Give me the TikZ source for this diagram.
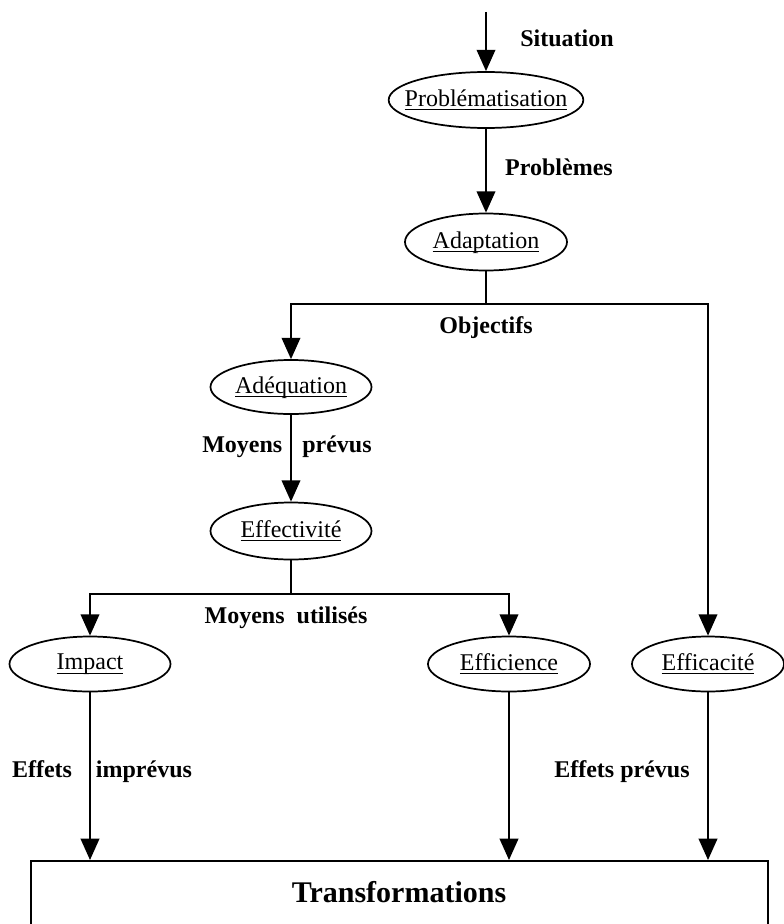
\documentclass[tikz,border=0pt]{standalone}
\usepackage{fontspec}
\setmainfont{Liberation Serif}
\usetikzlibrary{arrows.meta,shapes.geometric}
\newcommand{\ulx}[1]{\makebox[0pt]{\underline{\raisebox{0pt}[\height][1pt]{#1}}}}
\begin{document}
\begin{tikzpicture}[x=0.75pt,y=-0.75pt,
  line width=1.3pt,
  arr/.style={-{Triangle[length=16pt,width=14pt]}},
  oval/.style={draw,ellipse,inner sep=0pt,line width=1.3pt,
    font=\fontsize{18}{21}\selectfont},
  lbl/.style={font=\fontsize{18}{21}\selectfont\bfseries,inner sep=0pt}]
\clip (0,0) rectangle (784,924);
% nodes
\node[oval,minimum width=146pt,minimum height=42pt] (prob) at (486,100) {\ulx{Problématisation}};
\node[oval,minimum width=121.5pt,minimum height=42.75pt] (adapt) at (486,242) {\ulx{Adaptation}};
\node[oval,minimum width=120.75pt,minimum height=40.5pt] (adeq) at (291,387) {\ulx{Adéquation}};
\node[oval,minimum width=120.75pt,minimum height=42.75pt] (effect) at (291,531) {\ulx{Effectivité}};
\node[oval,minimum width=120.75pt,minimum height=41.25pt] (impact) at (90,664) {\ulx{Impact}};
\node[oval,minimum width=121.5pt,minimum height=41.25pt] (effici) at (509,664) {\ulx{Efficience}};
\node[oval,minimum width=114pt,minimum height=41.25pt] (effica) at (708,664) {\ulx{Efficacité}};
\node[draw,rectangle,anchor=north west,inner sep=0pt,minimum width=552.75pt,minimum height=70pt] (trans) at (30,860) {};
\node[font=\fontsize{22.5}{26}\selectfont\bfseries,inner sep=0pt] (transtxt) at (399,892) {Transformations};
% labels
\node[lbl] (lsit) at (567,38) {Situation};
\node[lbl] (lprob) at (559,167) {Problèmes};
\node[lbl] (lobj) at (486,328) {Objectifs};
\node[lbl] (lmp) at (287,447) {Moyens\hspace{15pt}prévus};
\node[lbl] (lmu) at (286,618) {Moyens\hspace{9pt}utilisés};
\node[lbl] (lei) at (102,772) {Effets\hspace{18pt}imprévus};
\node[lbl] (lep) at (622,772) {Effets prévus};
% coordinates
\coordinate (start) at (486,12);
\coordinate (j1) at (486,304);
\coordinate (j2) at (291,594);
% connectors
\draw[arr] (start) -- (prob.north);
\draw[arr] (prob.south) -- (adapt.north);
\draw (adapt.south) -- (j1);
\draw[arr] (j1) -| (adeq.north);
\draw[arr] (j1) -| (effica.north);
\draw[arr] (adeq.south) -- (effect.north);
\draw (effect.south) -- (j2);
\draw[arr] (j2) -| (impact.north);
\draw[arr] (j2) -| (effici.north);
\draw[arr] (impact.south) -- (impact.south |- trans.north);
\draw[arr] (effici.south) -- (effici.south |- trans.north);
\draw[arr] (effica.south) -- (effica.south |- trans.north);
\end{tikzpicture}
\end{document}
